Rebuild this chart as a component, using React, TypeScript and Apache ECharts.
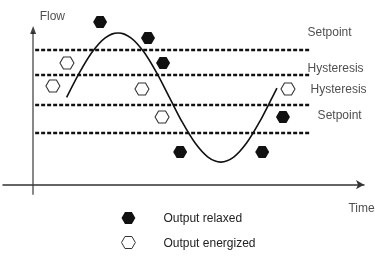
import React, { useEffect, useRef } from "react";
import * as echarts from "echarts";

// Axis ranges (time, flow) in arbitrary units
const timeRange = [-9, 98.8];
const flowRange = [-6, 97.4];

// Horizontal dashed reference levels (flow) and their x extent (time)
const levels = [86.5, 70.4, 51.2, 33.2];
const levelSpan = [0.6, 82.7];

// Sine-like flow curve
const curveTime = [10.0, 13.84, 17.68, 21.51, 25.35, 29.19, 33.03, 36.86, 40.7, 44.54, 48.38, 52.21, 56.05, 59.89, 63.73, 67.56, 71.4, 72.8];
const curveFlow = [56, 71.9, 85.3, 94.3, 97.5, 94.3, 85.3, 71.9, 56, 40.1, 26.7, 17.7, 14.5, 17.7, 26.7, 40.1, 56, 62];

// Output relaxed (filled hexagons)
const relaxedTime = [20.0, 34.3, 38.8, 43.9, 68.4, 74.6];
const relaxedFlow = [104.5, 94.2, 78.1, 21.0, 21.0, 43.4];

// Output energized (hollow hexagons)
const energizedTime = [10.1, 5.9, 32.5, 38.5, 76.1];
const energizedFlow = [78.1, 63.4, 61.4, 43.4, 61.4];

// Text labels
const labelTexts = ["Setpoint", "Hysteresis", "Hysteresis", "Setpoint", "Flow", "Time"];
const labelTime = [82.1, 82.1, 83.0, 85.1, 2.1, 94.3];
const labelFlow = [98.0, 74.9, 61.1, 44.7, 108.3, -15];

const legendNames = ["Output relaxed", "Output energized"];

const HEX = "path://M0,866 L500,0 L1500,0 L2000,866 L1500,1732 L500,1732 Z";
const FONT = "Liberation Sans, Arial, sans-serif";

export default function App() {
  const ref = useRef<HTMLDivElement>(null);
  useEffect(() => {
    if (!ref.current) return;
    const chart = echarts.init(ref.current, undefined, { renderer: "svg" });
    const levelSeries = levels.map((f, i) => ({
      type: "line",
      name: "level" + i,
      data: [
        [levelSpan[0], f],
        [levelSpan[1], f],
      ],
      symbol: "none",
      silent: true,
      lineStyle: { color: "#111", width: 2.5, type: [4, 2] },
      z: 2,
    }));
    chart.setOption({
      animation: false,
      grid: { left: 3, right: 11, top: 33, bottom: 62 },
      xAxis: {
        type: "value",
        min: timeRange[0],
        max: timeRange[1],
        axisLine: {
          onZero: true,
          lineStyle: { color: "#333", width: 1.5 },
          symbol: ["none", "arrow"],
          symbolSize: [7, 8],
        },
        axisTick: { show: false },
        axisLabel: { show: false },
        splitLine: { show: false },
      },
      yAxis: {
        type: "value",
        min: flowRange[0],
        max: flowRange[1],
        axisLine: {
          show: true,
          onZero: true,
          lineStyle: { color: "#888", width: 2 },
        },
        axisTick: { show: false },
        axisLabel: { show: false },
        splitLine: { show: false },
      },
      legend: {
        data: [
          { name: legendNames[0], itemStyle: { color: "#111", borderWidth: 0 } },
          { name: legendNames[1], itemStyle: { color: "#fff", borderColor: "#333", borderWidth: 1 } },
        ],
        orient: "vertical",
        left: 121,
        top: 212,
        padding: 0,
        itemWidth: 14,
        itemHeight: 12,
        itemGap: 12,
        icon: HEX,
        selectedMode: false,
        textStyle: { color: "#222", fontSize: 12, fontFamily: FONT, padding: [0, 0, 0, 23] },
      },
      series: [
        ...levelSeries,
        {
          type: "line",
          name: "curve",
          data: curveTime.map((t, i) => [t, curveFlow[i]]),
          smooth: 0.3,
          symbol: "none",
          silent: true,
          lineStyle: { color: "#111", width: 1.6 },
          z: 3,
        },
        {
          type: "scatter",
          name: "yArrow",
          data: [[0, flowRange[1]]],
          symbol: "triangle",
          symbolSize: [6, 8],
          symbolOffset: [0, -3],
          clip: false,
          silent: true,
          itemStyle: { color: "#111" },
          z: 6,
        },
        {
          type: "scatter",
          name: legendNames[0],
          data: relaxedTime.map((t, i) => [t, relaxedFlow[i]]),
          symbol: HEX,
          symbolSize: [14, 12],
          clip: false,
          itemStyle: { color: "#111", opacity: 1 },
          z: 4,
        },
        {
          type: "scatter",
          name: legendNames[1],
          data: energizedTime.map((t, i) => [t, energizedFlow[i]]),
          symbol: HEX,
          symbolSize: [14, 12],
          clip: false,
          itemStyle: { color: "#fff", borderColor: "#333", borderWidth: 1, opacity: 1 },
          z: 4,
        },
        {
          type: "scatter",
          name: "labels",
          data: labelTexts.map((s, i) => ({ name: s, value: [labelTime[i], labelFlow[i]] })),
          symbolSize: 1,
          clip: false,
          silent: true,
          itemStyle: { color: "rgba(0,0,0,0)" },
          label: {
            show: true,
            position: [0, 0],
            align: "left",
            verticalAlign: "middle",
            formatter: (p: any) => p.name,
            color: "#222",
            fontSize: 12,
            fontFamily: FONT,
          },
          z: 5,
        },
      ],
    });
    return () => chart.dispose();
  }, []);
  return <div ref={ref} style={{ width: 375, height: 256, position: "fixed", left: 0, top: 0 }} />;
}
